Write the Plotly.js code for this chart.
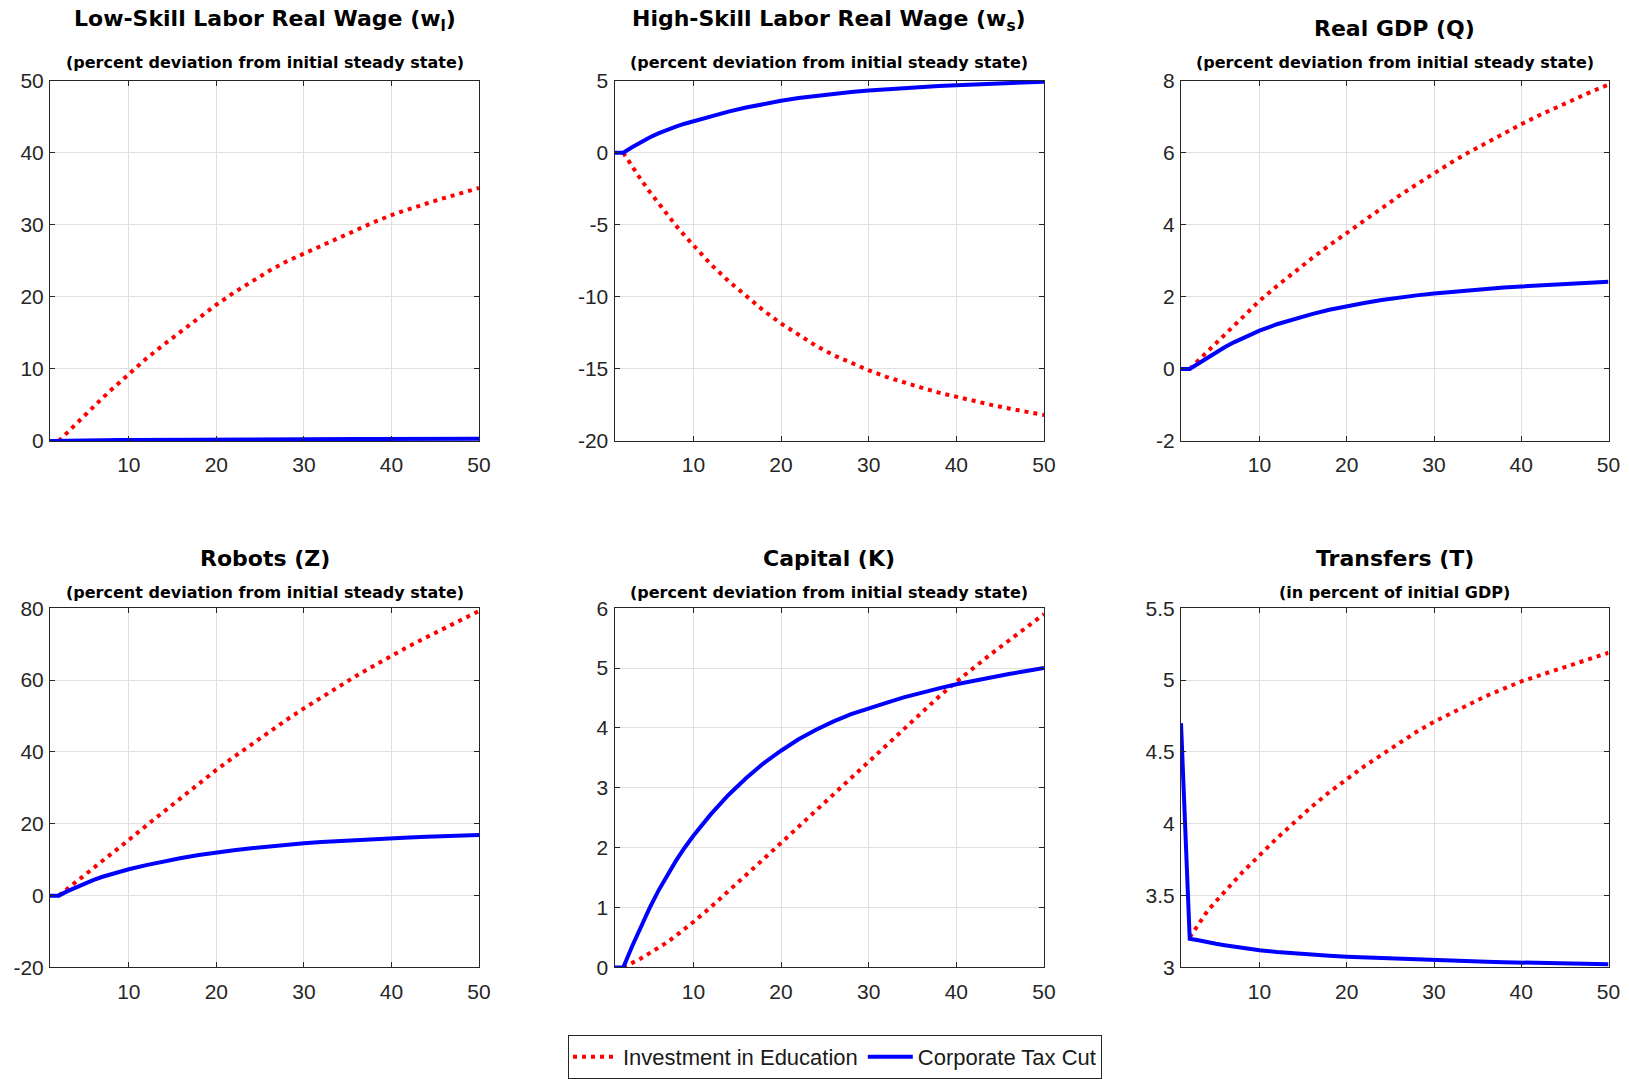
<!DOCTYPE html>
<html>
<head>
<meta charset="utf-8">
<script src="https://cdn.plot.ly/plotly-3.0.1.min.js"></script>
<style>html,body{margin:0;padding:0;background:#fff;}#chart{width:1629px;height:1079px;}</style>
</head>
<body>
<div id="chart"></div>
<script>
const periods = [1,2,3,4,5,6,7,8,9,10,12,14,16,18,20,22,24,26,28,30,32,34,36,38,40,42,44,46,48,50];

const wl_edu = [null,0,1.22,2.43,3.62,4.8,5.96,7.1,8.22,9.33,11.44,13.38,15.26,17.1,18.9,20.58,22.14,23.58,24.9,26.0,27.15,28.26,29.33,30.36,31.35,32.2,32.95,33.7,34.4,35.1];
const wl_tax = [0,0,0.03,0.05,0.07,0.09,0.1,0.12,0.13,0.14,0.16,0.18,0.19,0.2,0.21,0.22,0.23,0.24,0.24,0.25,0.26,0.26,0.27,0.27,0.28,0.28,0.29,0.29,0.3,0.3];

const ws_edu = [null,0,-0.95,-1.85,-2.7,-3.5,-4.3,-5.05,-5.75,-6.45,-7.75,-8.9,-9.95,-10.95,-11.85,-12.65,-13.4,-14.05,-14.6,-15.1,-15.55,-15.95,-16.3,-16.65,-16.95,-17.25,-17.5,-17.75,-17.98,-18.2];
const ws_tax = [0,0,0.38,0.74,1.06,1.34,1.59,1.81,2.01,2.19,2.53,2.85,3.13,3.38,3.6,3.79,3.95,4.09,4.21,4.31,4.4,4.48,4.55,4.62,4.68,4.74,4.79,4.84,4.89,4.93];

const q_edu = [null,0,0.24,0.48,0.72,0.96,1.2,1.43,1.66,1.89,2.3,2.7,3.07,3.43,3.78,4.13,4.47,4.8,5.12,5.44,5.73,6.01,6.28,6.54,6.79,7.03,7.26,7.48,7.69,7.89];
const q_tax = [0,0,0.15,0.31,0.46,0.6,0.73,0.85,0.96,1.06,1.24,1.39,1.52,1.64,1.74,1.83,1.91,1.98,2.04,2.09,2.14,2.18,2.22,2.26,2.29,2.32,2.35,2.37,2.4,2.42];

const z_edu = [null,0,1.9,3.8,5.7,7.7,9.6,11.6,13.5,15.5,19.5,23.4,27.3,31.2,35.0,38.6,42.1,45.6,48.9,52.1,55.2,58.2,61.2,64.0,66.8,69.4,71.9,74.4,76.8,79.2];
const z_tax = [0,0,1.25,2.4,3.45,4.4,5.25,6.0,6.7,7.35,8.5,9.55,10.45,11.3,12.05,12.65,13.2,13.7,14.15,14.55,14.9,15.2,15.5,15.75,16.0,16.2,16.4,16.6,16.75,16.9];

const k_edu = [null,0,0.07,0.15,0.24,0.33,0.42,0.53,0.64,0.76,1.01,1.27,1.54,1.81,2.08,2.35,2.62,2.89,3.16,3.43,3.71,3.99,4.26,4.52,4.77,5.01,5.24,5.46,5.68,5.9];
const k_tax = [0,0,0.35,0.68,0.99,1.28,1.54,1.78,2.0,2.2,2.56,2.88,3.16,3.41,3.62,3.81,3.97,4.11,4.23,4.33,4.42,4.51,4.59,4.66,4.73,4.79,4.85,4.9,4.95,5.0];

const t_edu = [null,3.21,3.3,3.39,3.46,3.53,3.6,3.66,3.72,3.78,3.9,4.01,4.12,4.22,4.31,4.4,4.48,4.56,4.64,4.71,4.77,4.83,4.89,4.94,4.99,5.03,5.07,5.11,5.15,5.19];
const t_tax = [4.7,3.2,3.19,3.175,3.165,3.155,3.145,3.135,3.128,3.12,3.108,3.098,3.09,3.082,3.075,3.07,3.065,3.06,3.055,3.05,3.047,3.043,3.04,3.037,3.034,3.031,3.029,3.027,3.025,3.022];

const seriesNames = ["Investment in Education", "Corporate Tax Cut"];
const xTicks = [10,20,30,40,50];
const xTickLabels = ["10","20","30","40","50"];

const wl_yticks = [0,10,20,30,40,50];
const ws_yticks = [-20,-15,-10,-5,0,5];
const q_yticks  = [-2,0,2,4,6,8];
const z_yticks  = [-20,0,20,40,60,80];
const k_yticks  = [0,1,2,3,4,5,6];
const t_yticks  = [3,3.5,4,4.5,5,5.5];
const wl_ylabels = ["0","10","20","30","40","50"];
const ws_ylabels = ["-20","-15","-10","-5","0","5"];
const q_ylabels  = ["-2","0","2","4","6","8"];
const z_ylabels  = ["-20","0","20","40","60","80"];
const k_ylabels  = ["0","1","2","3","4","5","6"];
const t_ylabels  = ["3","3.5","4","4.5","5","5.5"];

const titles = [
  "Low-Skill Labor Real Wage (w<sub>l</sub>)",
  "High-Skill Labor Real Wage (w<sub>s</sub>)",
  "Real GDP (Q)",
  "Robots (Z)",
  "Capital (K)",
  "Transfers (T)"
];
const subtitles = [
  "(percent deviation from initial steady state)",
  "(percent deviation from initial steady state)",
  "(percent deviation from initial steady state)",
  "(percent deviation from initial steady state)",
  "(percent deviation from initial steady state)",
  "(in percent of initial GDP)"
];

const eduSeries = [wl_edu, ws_edu, q_edu, z_edu, k_edu, t_edu];
const taxSeries = [wl_tax, ws_tax, q_tax, z_tax, k_tax, t_tax];
const yTickSets = [wl_yticks, ws_yticks, q_yticks, z_yticks, k_yticks, t_yticks];
const yLabelSets = [wl_ylabels, ws_ylabels, q_ylabels, z_ylabels, k_ylabels, t_ylabels];

const W = 1629, H = 1079;
const colPx = [[50,479],[614.5,1044],[1181,1608.5]];
const rowPx = [[81,443],[611,972]];
const titleYPx = [[21,21,29],[561,561,561]];
const subYPx = [63, 595];

const traces = [];
const layout = {
  width: W, height: H,
  margin: {l:0, r:0, t:0, b:0},
  paper_bgcolor: '#ffffff',
  plot_bgcolor: '#ffffff',
  font: {family: '"Liberation Sans", Arial, Helvetica, sans-serif', color: '#262626', size: 21},
  showlegend: true,
  legend: {
    orientation: 'h',
    x: (564 + 1106) / 2 / W, xanchor: 'center',
    y: 1 - 1062/H, yanchor: 'middle',
    bgcolor: '#ffffff',
    bordercolor: '#262626',
    borderwidth: 1,
    font: {size: 22, color: '#1a1a1a'},
    itemwidth: 45,
    tracegroupgap: 0
  },
  annotations: []
};

for (let i = 0; i < 6; i++) {
  const r = Math.floor(i/3), c = i % 3;
  const ax = i === 0 ? '' : String(i+1);
  const xd = [colPx[c][0]/W, colPx[c][1]/W];
  const yd = [1 - rowPx[r][1]/H, 1 - rowPx[r][0]/H];
  const yt = yTickSets[i];
  const axisCommon = {
    showline: true, linecolor: '#262626', linewidth: 1, mirror: 'ticks',
    ticks: 'inside', ticklen: 5, tickcolor: '#262626', tickwidth: 1,
    showgrid: true, gridcolor: '#dfdfdf', gridwidth: 1,
    zeroline: false,
    tickmode: 'array',
    tickfont: {size: 21, color: '#262626'}
  };
  layout['xaxis' + ax] = Object.assign({}, axisCommon, {
    domain: xd, anchor: 'y' + ax, range: [1, 50],
    tickvals: xTicks, ticktext: xTickLabels, ticklabelstandoff: 5
  });
  layout['yaxis' + ax] = Object.assign({}, axisCommon, {
    domain: yd, anchor: 'x' + ax, range: [yt[0], yt[yt.length-1]],
    tickvals: yt, ticktext: yLabelSets[i], ticklabelstandoff: 1
  });
  traces.push({
    x: periods, y: eduSeries[i], type: 'scatter', mode: 'lines',
    name: seriesNames[0], legendgroup: 'edu', showlegend: i === 0,
    line: {color: '#ff0000', width: 4, dash: '4px,5px'},
    xaxis: 'x' + ax, yaxis: 'y' + ax, connectgaps: false
  });
  traces.push({
    x: periods, y: taxSeries[i], type: 'scatter', mode: 'lines',
    name: seriesNames[1], legendgroup: 'tax', showlegend: i === 0,
    line: {color: '#0000ff', width: 4},
    xaxis: 'x' + ax, yaxis: 'y' + ax
  });
  const cx = (colPx[c][0] + colPx[c][1]) / 2 / W;
  layout.annotations.push({
    text: '<b>' + titles[i] + '</b>', xref: 'paper', yref: 'paper',
    x: cx, y: 1 - titleYPx[r][c]/H, xanchor: 'center', yanchor: 'middle',
    showarrow: false,
    font: {family: '"DejaVu Sans", "Liberation Sans", Arial, sans-serif', size: 22, color: '#000000'}
  });
  layout.annotations.push({
    text: '<b>' + subtitles[i] + '</b>', xref: 'paper', yref: 'paper',
    x: cx, y: 1 - subYPx[r]/H, xanchor: 'center', yanchor: 'middle',
    showarrow: false,
    font: {family: '"DejaVu Sans", "Liberation Sans", Arial, sans-serif', size: 16, color: '#000000'}
  });
}

Plotly.newPlot('chart', traces, layout, {displayModeBar: false, staticPlot: true});
</script>
</body>
</html>
